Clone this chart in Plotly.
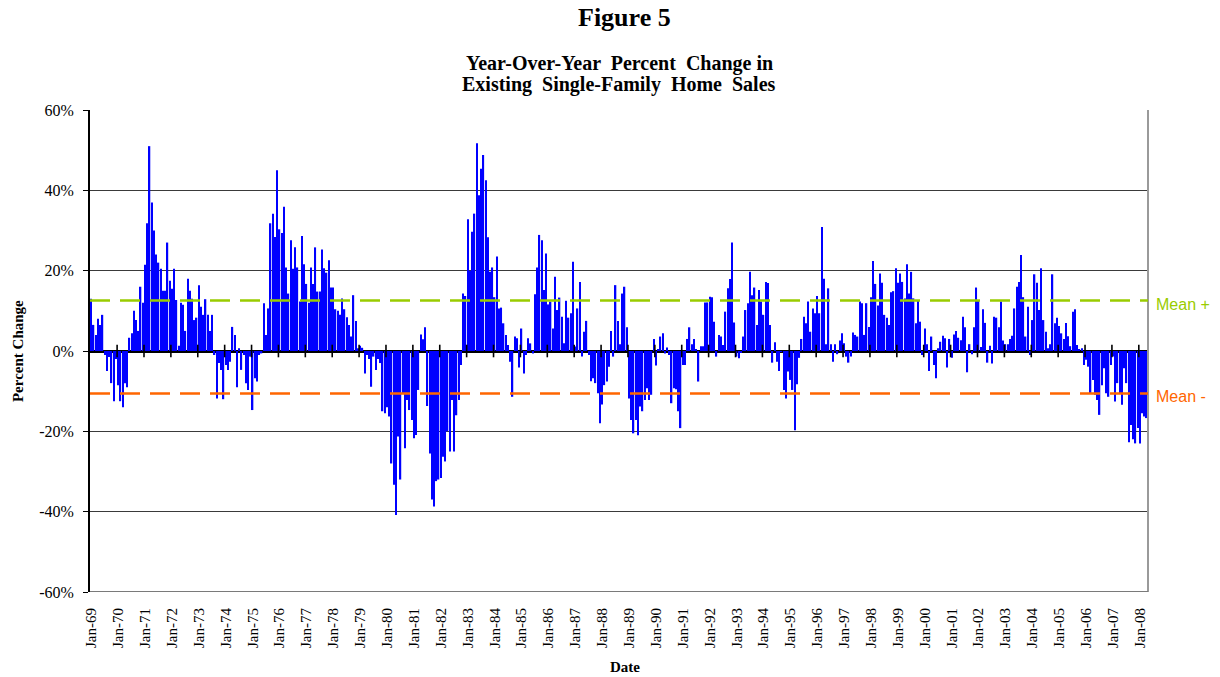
import plotly.graph_objects as go

# Year-over-year % change, monthly, Jan-1969 .. Apr-2008
yoy_1969_1978 = [
    13, 6.5, 4, 8, 6.5, 9, -1, -5, -1.5, -8, -12.5, -2,
    -8.5, -12.5, -14, -8, -9, 3.3, 4.4, 10, 7.7, 5, 16, 12,
    21.5, 31.8, 51, 37, 30, 24, 22, 20.5, 15, 15, 27, 17.5,
    15.5, 20.5, 12.7, 1.3, 12, 11.5, 5, 18, 15, 13, 7.7, 8.3,
    16.4, 11, 9, 12.9, 9, 5, 9, -1, -11.8, -3, -4.7, -12,
    -3.5, -4.7, -2.7, 6, 4, -9, 0.7, -4.7, -1, -8, -9.7, -1.4,
    -14.7, -6.8, -7.6, -1, -0.6, 11.9, 4, 10.6, 31.8, 34.2, 28.4, 45,
    30.3, 29.4, 35.9, 20.8, 14.3, 27.6, 20.5, 25.8, 20.8, 12.3, 28.6, 21.6,
    16.7, 12, 20.8, 16.7, 25.8, 14.8, 14.8, 25.3, 20.6, 19.5, 22.6, 15.8,
    15.8, 10.4, 10, 9, 13.1, 10.4, 8.4, 6.5, 3.6, 13.9, 7.5, 0.7,
]
yoy_1979_1988 = [
    1.3, 0.8, -5.6, -1, -2, -8.9, -1.4, -4.7, -2, -3, -15, -15.5,
    -14, -16.3, -28, -33.3, -40.8, -21.3, -32, -10.5, -24.2, -12.2, -14.7, -17.2,
    -21.7, -20.9, -9.7, 4.1, 2.9, 5.9, -13.7, -25.5, -37, -38.7, -32.4, -32,
    -31.6, -26.3, -27.5, -20, -25, -12.2, -25, -16, -12.2, -3.5, 14.3, 13.7,
    32.8, 20, 29.7, 34.2, 51.7, 38.8, 45.4, 48.8, 42.5, 28.3, 19.7, 20.8,
    13.4, 23.5, 10.6, 10.8, 6.9, 4, 1.5, -2.7, -11.4, 3.6, 3.2, -4.1,
    5.6, -5.6, -1, 3.2, 1.9, -0.6, 14.1, 20.8, 28.9, 27.6, 15.2, 24.3,
    11.6, 12.3, 5.6, 18.5, 10.2, 13.3, 8.5, 1.9, 12.5, 8.3, 9.4, 22.2,
    1.1, 10.6, 17.2, -1.4, 4.8, 7.5, -1, -7.5, -6.8, -8, -10.5, -18,
    -13.3, -8.5, -7.6, -3.9, 5, -1.4, 16.4, 7.5, 1.7, 14.3, 16, 5.9,
]
yoy_1989_1998 = [
    -11.8, -17.2, -20.5, -17.2, -21, -13.8, -15, -12.2, -9.3, -12.2, -10.9, 3,
    -3.6, 0.5, 3.6, 4.4, -0.6, 0.9, -1, -13, -9.3, -9.5, -15, -19.2,
    -3.5, -3.5, 3, 5.9, 1.7, 3, 0.5, -7.6, 1.2, 1.2, 12.1, 12.1,
    13.5, 13.4, 7.3, -1.4, 4, 3.6, 1.5, 9.8, 15.6, 17.9, 27, 7.1,
    -1.4, -1.8, -0.5, 3.6, 10.2, 11.9, 19.7, 13.9, 15.8, 6.5, 15.2, 12.3,
    9, 17.2, 16.9, 6.5, -2.9, 2.2, -2.7, -5, -0.2, -9.7, -11.8, -5.1,
    -7.2, -9.7, -19.7, -8.3, -1.7, 3, 8.5, 6.9, 12.3, 4.8, 10.6, 9.4,
    13.7, 9.4, 30.9, 18, 1.7, 15.6, 1.7, -2.7, 1.7, -0.8, 2.6, 4.4,
    1.9, -1.4, -2.9, -1.4, 4.6, 4, 3.6, 12.3, 11.9, 4, 11.9, 6,
    13.4, 22.4, 16.7, 11.3, 19.3, 17, 9, 8.3, 6.5, 14.6, 14.9, 20.6,
]
yoy_1999_2008 = [
    17, 19.3, 17.2, 13.1, 21.6, 14.3, 19.7, 13.1, 6.9, 12.7, 7.3, -1,
    5.6, 1.7, -5, 3.6, -3.5, -6.8, 0.7, 2.3, 3.8, 3.2, -4.1, 3,
    -1.7, 4.1, 5, 3.3, 2.7, 8.5, 5.9, -5.3, 1.7, -0.8, 5.9, 15.8,
    12.5, 1, 10.4, 7, -2.9, 1.3, -3.1, 8.5, 8.3, 5.9, 12.3, 2.6,
    1.7, 1.7, 3, 3.8, 10.6, 16, 17.2, 23.9, 13.4, 3.6, 11, -1,
    7.7, 19.1, 17, 10.2, 20.6, 7.7, 4.8, 0.7, 1.7, 19.1, 6.9, 8.3,
    6.2, 4.4, 3, 7, 3.7, 1.2, 9.8, 10.4, 1.5, 0.5, 0.7, -3.5,
    -2.2, -3.9, -10.5, -7.2, -10.9, -12.2, -15.9, -8.5, -4.3, -10.5, -11.4, -3.5,
    -1.4, -12.6, -8, -10.5, -13.4, -4.3, -8, -22.7, -18.4, -22, -23, -19.2,
    -23, -15.5, -16.3, -16.7,
]

tick_labels = [
    "Jan-69", "Jan-70", "Jan-71", "Jan-72", "Jan-73", "Jan-74", "Jan-75", "Jan-76",
    "Jan-77", "Jan-78", "Jan-79", "Jan-80", "Jan-81", "Jan-82", "Jan-83", "Jan-84",
    "Jan-85", "Jan-86", "Jan-87", "Jan-88", "Jan-89", "Jan-90", "Jan-91", "Jan-92",
    "Jan-93", "Jan-94", "Jan-95", "Jan-96", "Jan-97", "Jan-98", "Jan-99", "Jan-00",
    "Jan-01", "Jan-02", "Jan-03", "Jan-04", "Jan-05", "Jan-06", "Jan-07", "Jan-08",
]
y_ticks = [60, 40, 20, 0, -20, -40, -60]
y_tick_text = ["60%", "40%", "20%", "0%", "-20%", "-40%", "-60%"]
mean_plus = 12.6
mean_minus = -10.6

values = yoy_1969_1978 + yoy_1979_1988 + yoy_1989_1998 + yoy_1999_2008
months = list(range(len(values)))
tick_pos = [12 * i for i in range(len(tick_labels))]
year_bounds = [12 * i - 0.5 for i in range(1, len(tick_labels))]

SERIF = "Liberation Serif, Times New Roman, serif"
SANS = "Liberation Sans, Arial, sans-serif"

fig = go.Figure()
fig.add_trace(go.Bar(
    x=months, y=values,
    marker=dict(color="#0000FF", line=dict(width=0)),
    showlegend=False, hoverinfo="y",
))
# category-axis tick marks sitting on the zero line
fig.add_trace(go.Scatter(
    x=year_bounds, y=[0] * len(year_bounds), mode="markers",
    marker=dict(symbol="line-ns", size=9, line=dict(width=1.6, color="#000000")),
    showlegend=False, hoverinfo="skip",
))

fig.update_layout(
    width=1220, height=677,
    margin=dict(l=90, r=72, t=110, b=85),
    paper_bgcolor="white", plot_bgcolor="white",
    bargap=0.4,
    font=dict(family=SERIF, size=15, color="#000000"),
    showlegend=False,
)
fig.update_xaxes(
    range=[-0.6, len(values) - 0.4],
    tickmode="array", tickvals=tick_pos, ticktext=tick_labels,
    tickangle=-90, tickfont=dict(family=SERIF, size=15),
    ticks="", ticklabelstandoff=12, showgrid=False, zeroline=False,
    showline=False, automargin=False,
)
fig.update_yaxes(
    range=[-60, 60],
    tickmode="array", tickvals=y_ticks, ticktext=y_tick_text,
    tickfont=dict(family=SERIF, size=16),
    ticks="outside", ticklen=5, tickcolor="#000000", tickwidth=1,
    ticklabelstandoff=6,
    showgrid=True, gridcolor="#3a3a3a", gridwidth=1,
    zeroline=True, zerolinecolor="#000000", zerolinewidth=2.5,
    showline=True, linecolor="#000000", linewidth=2,
    automargin=False,
)

# right border and bottom border
fig.add_shape(type="line", xref="paper", yref="paper", x0=1, x1=1, y0=0, y1=1,
              line=dict(color="#9a9a9a", width=2))
fig.add_shape(type="line", xref="paper", yref="y", x0=0, x1=1, y0=-60, y1=-60,
              line=dict(color="#7a7a7a", width=2))

# mean lines
fig.add_shape(type="line", xref="paper", yref="y", x0=0, x1=1, y0=mean_plus, y1=mean_plus,
              line=dict(color="#99CC00", width=2.5, dash="20px,10px"))
fig.add_shape(type="line", xref="paper", yref="y", x0=0, x1=1, y0=mean_minus, y1=mean_minus,
              line=dict(color="#FF6600", width=2.5, dash="20px,10px"))
fig.add_annotation(x=1.006, xref="paper", y=mean_plus, yref="y", text="Mean +",
                   showarrow=False, xanchor="left", yanchor="middle", yshift=-4,
                   font=dict(family=SANS, size=16, color="#99CC00"))
fig.add_annotation(x=1.006, xref="paper", y=mean_minus, yref="y", text="Mean -",
                   showarrow=False, xanchor="left", yanchor="middle", yshift=-3,
                   font=dict(family=SANS, size=16, color="#FF6600"))

# titles
fig.add_annotation(x=0.505, xref="paper", y=1.191, yref="paper", text="<b>Figure 5</b>",
                   showarrow=False, xanchor="center", yanchor="middle",
                   font=dict(family=SERIF, size=26))
fig.add_annotation(x=0.5, xref="paper", y=1.0975, yref="paper",
                   text="<b>Year-Over-Year  Percent  Change in</b>",
                   showarrow=False, xanchor="center", yanchor="middle",
                   font=dict(family=SERIF, size=20))
fig.add_annotation(x=0.5, xref="paper", y=1.052, yref="paper",
                   text="<b>Existing  Single-Family  Home  Sales</b>",
                   showarrow=False, xanchor="center", yanchor="middle",
                   font=dict(family=SERIF, size=20))
fig.add_annotation(x=-0.068, xref="paper", y=0.5, yref="paper", text="<b>Percent Change</b>",
                   showarrow=False, textangle=-90, xanchor="center", yanchor="middle",
                   font=dict(family=SERIF, size=15))
fig.add_annotation(x=0.506, xref="paper", y=-0.156, yref="paper", text="<b>Date</b>",
                   showarrow=False, xanchor="center", yanchor="middle",
                   font=dict(family=SERIF, size=15))

fig.write_html(
    "out.html",
    config={"displayModeBar": False},
    post_script="document.body.style.margin='0';document.body.style.overflow='hidden';",
)
